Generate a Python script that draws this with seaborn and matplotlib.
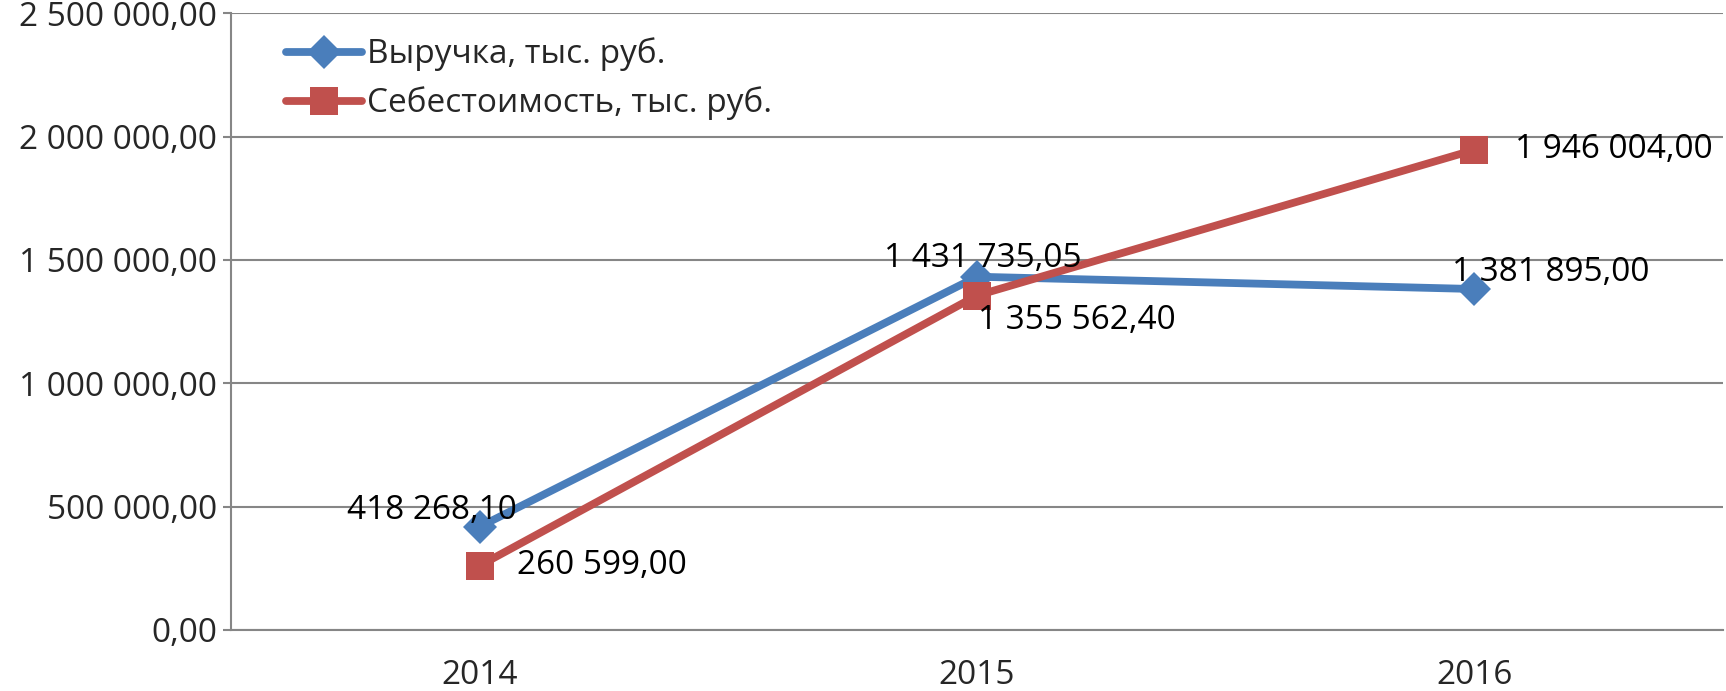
import pandas as pd
import matplotlib.pyplot as plt
import matplotlib.ticker as mticker
import seaborn as sns

# data
years = [2014, 2015, 2016]
revenue = [418268.10, 1431735.05, 1381895.00]
cost = [260599.00, 1355562.40, 1946004.00]
series_names = ["Выручка, тыс. руб.", "Себестоимость, тыс. руб."]


def ru_fmt(v, pos=None):
    s = f"{v:,.2f}"
    return s.replace(",", " ").replace(".", ",")


def create_plot():
    sns.set_theme(style="white")
    plt.rcParams['font.family'] = ['Open Sans', 'DejaVu Sans']
    fs = 24

    df = pd.DataFrame({
        'year': years * 2,
        'value': revenue + cost,
        'series': [series_names[0]] * 3 + [series_names[1]] * 3,
    })

    fig = plt.figure(figsize=(17.26, 6.91), dpi=100)
    ax = fig.add_axes([0.1338, 0.0883, 0.8645, 0.8927])

    palette = {series_names[0]: '#4A7EBB', series_names[1]: '#C0504D'}
    markers = {series_names[0]: 'D', series_names[1]: 's'}
    sns.lineplot(data=df, x='year', y='value', hue='series', style='series',
                 palette=palette, markers=markers, dashes=False, ax=ax,
                 linewidth=5.6, markeredgewidth=0)
    for line in ax.lines:
        if line.get_marker() == 's':
            line.set_markersize(20)
        else:
            line.set_markersize(17)

    ax.set_xlim(2013.5, 2016.5)
    ax.set_ylim(0, 2500000)
    ax.yaxis.set_major_locator(mticker.MultipleLocator(500000))
    ax.yaxis.set_major_formatter(mticker.FuncFormatter(ru_fmt))
    ax.set_xticks(years)
    ax.set_xticklabels([str(y) for y in years])
    ax.set_xticks([2013.5, 2014.5, 2015.5, 2016.5], minor=True)
    ax.tick_params(axis='x', which='major', length=0, pad=21, labelsize=fs)
    ax.tick_params(axis='x', which='minor', length=8, width=1.5, color='#868686', direction='out')
    ax.tick_params(axis='y', which='major', length=6, width=1.5, color='#868686',
                   direction='out', labelsize=fs, pad=4, left=True)
    ax.set_xlabel('')
    ax.set_ylabel('')

    ax.grid(axis='y', color='#868686', linewidth=1.5)
    ax.set_axisbelow(True)
    for side in ['top', 'right']:
        ax.spines[side].set_visible(False)
    for side in ['left', 'bottom']:
        ax.spines[side].set_color('#868686')
        ax.spines[side].set_linewidth(1.5)

    # data labels (offsets in points from the data point)
    label_pos = [
        (years[0], revenue[0], 27, 12, 'right'),
        (years[1], revenue[1], 4, 13, 'center'),
        (years[2], revenue[2], -16, 12, 'left'),
        (years[0], cost[0], 27, 0, 'left'),
        (years[1], cost[1], 1, -18, 'left'),
        (years[2], cost[2], 29, 0, 'left'),
    ]
    for x, y, dx, dy, ha in label_pos:
        ax.annotate(ru_fmt(y), (x, y), xytext=(dx, dy), textcoords='offset points',
                    ha=ha, va='center', fontsize=fs, color='black')

    ax.legend(loc='upper left', frameon=False, fontsize=fs,
              handlelength=2.3, handletextpad=0.15, labelspacing=0.45,
              borderaxespad=0.3, bbox_to_anchor=(0.021, 0.998))

    fig.savefig('out.png', dpi=100)


if __name__ == "__main__":
    create_plot()
